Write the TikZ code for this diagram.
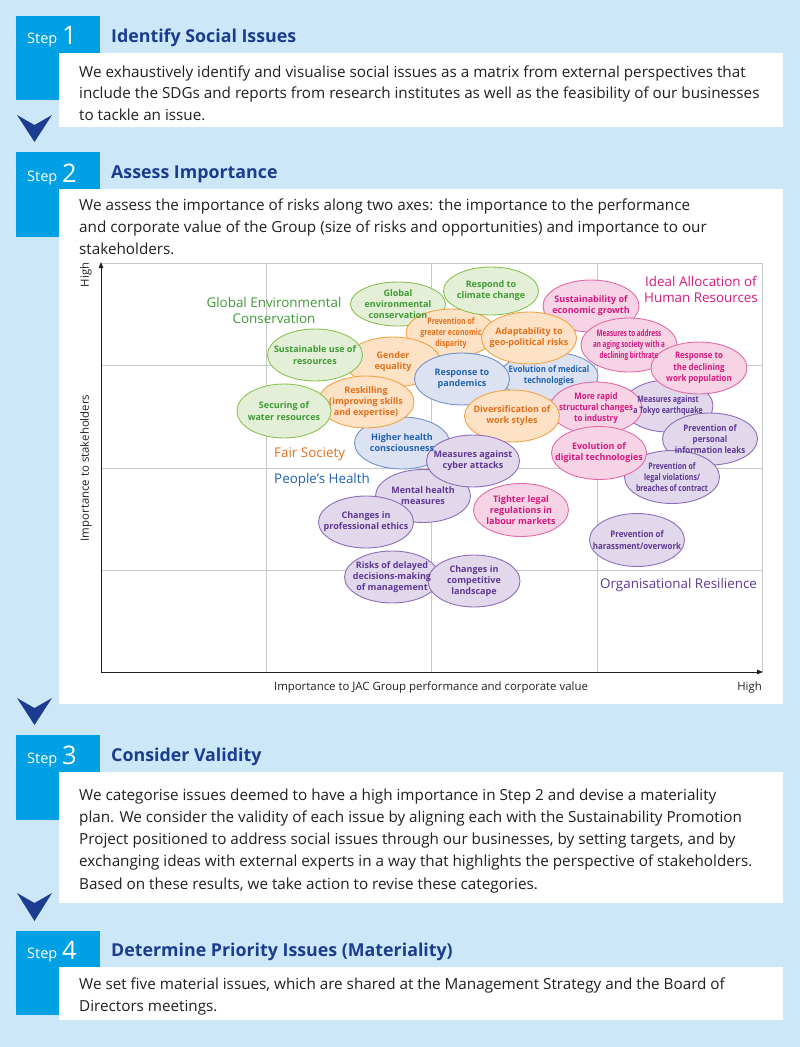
\documentclass[tikz,border=0pt]{standalone}
\usepackage{fontspec}
\setmainfont{Open Sans}
\newfontfamily\condsans[FakeStretch=0.78]{Open Sans}
\newfontfamily\xcondsans[FakeStretch=0.70]{Open Sans}
\newfontfamily\semicond[FakeStretch=0.88]{Open Sans}
\usetikzlibrary{shapes.geometric,arrows.meta}
\pgfdeclarelayer{bg}
\pgfdeclarelayer{ell}
\pgfsetlayers{bg,ell,main}
\definecolor{bgblue}{HTML}{CCE8F8}
\definecolor{stepblue}{HTML}{00A0E4}
\definecolor{navy}{HTML}{1B3C8F}
\definecolor{bodytext}{HTML}{231F20}
\definecolor{gridgray}{HTML}{C8C8C8}
\definecolor{gfill}{HTML}{E3F0D7}\definecolor{gdraw}{HTML}{8CC152}\definecolor{gtext}{HTML}{3F9B35}
\definecolor{ofill}{HTML}{FDE2C6}\definecolor{odraw}{HTML}{F4A246}\definecolor{otext}{HTML}{E5701C}
\definecolor{bfill}{HTML}{DCE2F2}\definecolor{bdraw}{HTML}{7092CD}\definecolor{btext}{HTML}{2062B0}
\definecolor{pfill}{HTML}{E1D8EC}\definecolor{pdraw}{HTML}{8E6DB8}\definecolor{ptext}{HTML}{5E3894}
\definecolor{kfill}{HTML}{F6D3E5}\definecolor{kdraw}{HTML}{E36AA9}\definecolor{ktext}{HTML}{D7197F}
\tikzset{
  stepbox/.style={fill=stepblue,draw=none},
  panel/.style={fill=white,draw=none},
  chev/.style={fill=navy,draw=none},
  stepword/.style={text=white,anchor=base west,inner sep=0pt,font=\fontsize{14.5}{16}\selectfont},
  stepnum/.style={text=white,anchor=base west,inner sep=0pt,font=\fontsize{25.5}{28}\selectfont},
  steptitle/.style={text=navy,anchor=base west,inner sep=0pt,font=\fontsize{17.8}{20}\selectfont\bfseries},
  body/.style={text=bodytext,anchor=base west,inner sep=0pt,font=\fontsize{15.25}{17}\selectfont},
  grid/.style={draw=gridgray,line width=0.8pt},
  axis/.style={draw=bodytext,line width=0.9pt,-{Triangle[length=6pt,width=4.5pt]}},
  axlabel/.style={text=bodytext,inner sep=0pt,font=\fontsize{11.4}{13}\selectfont},
  cat/.style={inner sep=0pt,align=center,font=\fontsize{13.4}{16}\selectfont},
  iss/.style={ellipse,line width=0.9pt,inner sep=0pt},
  isstext/.style={inner sep=0pt,align=center,font=\fontsize{9}{11.2}\selectfont\bfseries},
  G/.style={fill=gfill,draw=gdraw},Gtext/.style={text=gtext},
  O/.style={fill=ofill,draw=odraw},Otext/.style={text=otext},
  B/.style={fill=bfill,draw=bdraw},Btext/.style={text=btext},
  P/.style={fill=pfill,draw=pdraw},Ptext/.style={text=ptext},
  K/.style={fill=kfill,draw=kdraw},Ktext/.style={text=ktext},
  xcnd/.style={font=\fontsize{9}{11.2}\selectfont\xcondsans\bfseries},
  cnd/.style={font=\fontsize{9}{11.2}\selectfont\condsans\bfseries},
  scnd/.style={font=\fontsize{9}{11.2}\selectfont\semicond\bfseries},
}
% #1 name, #2 colour style, #3 x, #4 y, #5 width, #6 height, #7 text options, #8 text
\newcommand\issue[8]{%
  \begin{pgfonlayer}{ell}
  \node[iss,#2,minimum width=#5pt,minimum height=#6pt] (#1) at (#3,#4) {};
  \end{pgfonlayer}
  \node[isstext,#2text,#7] (#1-t) at (#1.center) {#8};
}
\begin{document}
\begin{tikzpicture}[x=1pt,y=-1pt]
\useasboundingbox (0,0) rectangle (800,1047);
\begin{pgfonlayer}{bg}
\fill[bgblue] (0,0) rectangle (800,1047);
\fill[stepbox] (16,16) rectangle (100,100);
\fill[panel] (59,53) rectangle (783,127);
\fill[chev] (17,115) -- (34.5,125) -- (52,115) -- (34.5,142) -- cycle;
\fill[stepbox] (16,152) rectangle (100,237);
\fill[panel] (59,189) rectangle (783,704);
\fill[chev] (17,698) -- (34.5,708) -- (52,698) -- (34.5,725) -- cycle;
\fill[stepbox] (16,735) rectangle (100,820);
\fill[panel] (59,772) rectangle (783,903);
\fill[chev] (17,893) -- (34.5,903) -- (52,893) -- (34.5,921) -- cycle;
\fill[stepbox] (16,931) rectangle (100,1015);
\fill[panel] (59,967) rectangle (783,1020);
% matrix grid
\coordinate (o) at (101,672);
\coordinate (ytop) at (101,262);
\coordinate (xend) at (763,672);
\draw[grid] (101,263) -- (762,263) -- (762,672);
\foreach \gx in {266,431,597} \draw[grid] (\gx,263) -- (\gx,672);
\foreach \gy in {365,468,570} \draw[grid] (101,\gy) -- (762,\gy);
\draw[axis] (o) -- (ytop);
\draw[axis] (o) -- (xend);
\end{pgfonlayer}

% ---------- Step 1
\node[stepword] (s1w) at (27,43) {Step};
\node[stepnum] (s1n) at (62,44) {1};
\node[steptitle] (s1t) at (111,42) {Identify Social Issues};
\node[body] (s1a) at (79,77) {We exhaustively identify and visualise social issues as a matrix from external perspectives that};
\node[body] (s1b) at (79,98.5) {include the SDGs and reports from research institutes as well as the feasibility of our businesses};
\node[body] (s1c) at (79,120) {to tackle an issue.};

% ---------- Step 2
\node[stepword] (s2w) at (27,181) {Step};
\node[stepnum] (s2n) at (62,182) {2};
\node[steptitle] (s2t) at (111,178) {Assess Importance};
\node[body] (s2a) at (79,210) {We assess the importance of risks along two axes: the importance to the performance};
\node[body] (s2b) at (79,232) {and corporate value of the Group (size of risks and opportunities) and importance to our};
\node[body] (s2c) at (79,254) {stakeholders.};

\node[axlabel,rotate=90] (yhigh) at (86,275) {High};
\node[axlabel,rotate=90] (ylab) at (86,468) {Importance to stakeholders};
\node[axlabel,anchor=base] (xlab) at (431,690) {Importance to JAC Group performance and corporate value};
\node[axlabel,anchor=base east] (xhigh) at (762,690) {High};

% category labels
\node[cat,text=gtext] (catG) at (274,310) {Global Environmental\\Conservation};
\node[cat,text=ktext] (catK) at (701,289) {Ideal Allocation of\\Human Resources};
\node[cat,text=otext,anchor=base west] (catO) at (274,457) {Fair Society};
\node[cat,text=btext,anchor=base west] (catB) at (274,483) {People's Health};
\node[cat,text=ptext,anchor=base west] (catP) at (600,588) {Organisational Resilience};

% issues (drawing order = stacking order of the ellipses; texts stay on top)
\issue{gec}{G}{398}{304}{95}{44}{}{Global\\environmental\\conservation}
\issue{emt}{B}{549}{376}{98}{48}{scnd}{Evolution of medical\\technologies}
\issue{hhc}{B}{402}{443}{95}{52}{}{Higher health\\consciousness}
\issue{ped}{O}{451}{333}{90}{48}{cnd}{Prevention of\\greater economic\\disparity}
\issue{rcc}{G}{491}{291}{95}{48}{}{Respond to\\climate change}
\issue{seg}{K}{591}{306}{96}{52}{}{Sustainability of\\economic growth}
\issue{agr}{O}{529}{338}{95}{52}{}{Adaptability to\\geo-political risks}
\issue{mas}{K}{629}{345}{96}{54}{xcnd}{Measures to address\\an aging society with a\\declining birthrate}
\issue{mte}{P}{668}{406}{90}{52}{cnd}{Measures against\\a Tokyo earthquake}
\issue{rdw}{K}{699}{368}{96}{52}{scnd}{Response to\\the declining\\work population}
\issue{geq}{O}{393}{362}{95}{50}{}{Gender\\equality}
\issue{sur}{G}{315}{355}{95}{52}{}{Sustainable use of\\resources}
\issue{rpa}{B}{462}{379}{95}{52}{}{Response to\\pandemics}
\issue{res}{O}{366}{402}{96}{52}{}{Reskilling\\(improving skills\\and expertise)}
\issue{swr}{G}{284}{411}{94}{54}{}{Securing of\\water resources}
\issue{mrs}{K}{596}{408}{92}{52}{scnd}{More rapid\\structural changes\\to industry}
\issue{dws}{O}{512}{416}{95}{52}{}{Diversification of\\work styles}
\issue{ppi}{P}{710}{439}{95}{52}{scnd}{Prevention of\\personal\\information leaks}
\issue{plv}{P}{672}{477}{95}{53}{cnd}{Prevention of\\legal violations/\\breaches of contract}
\issue{edt}{K}{599}{453}{95}{53}{}{Evolution of\\digital technologies}
\issue{mhm}{P}{423}{496}{95}{53}{}{Mental health\\measures}
\issue{mca}{P}{473}{461}{93}{52}{}{Measures against\\cyber attacks}
\issue{cpe}{P}{366}{522}{95}{52}{}{Changes in\\professional ethics}
\issue{tlr}{K}{521}{510}{95}{53}{}{Tighter legal\\regulations in\\labour markets}
\issue{pho}{P}{637}{540}{95}{53}{scnd}{Prevention of\\harassment/overwork}
\issue{rdd}{P}{392}{577}{95}{52}{}{Risks of delayed\\decisions-making\\of management}
\issue{ccl}{P}{474}{581}{92}{52}{}{Changes in\\competitive\\landscape}

% ---------- Step 3
\node[stepword] (s3w) at (27,763) {Step};
\node[stepnum] (s3n) at (62,764) {3};
\node[steptitle] (s3t) at (111,761) {Consider Validity};
\node[body] (s3a) at (79,800) {We categorise issues deemed to have a high importance in Step 2 and devise a materiality};
\node[body] (s3b) at (79,822) {plan. We consider the validity of each issue by aligning each with the Sustainability Promotion};
\node[body] (s3c) at (79,844) {Project positioned to address social issues through our businesses, by setting targets, and by};
\node[body] (s3d) at (79,866.5) {exchanging ideas with external experts in a way that highlights the perspective of stakeholders.};
\node[body] (s3e) at (79,889) {Based on these results, we take action to revise these categories.};

% ---------- Step 4
\node[stepword] (s4w) at (27,958) {Step};
\node[stepnum] (s4n) at (62,959) {4};
\node[steptitle] (s4t) at (111,956) {Determine Priority Issues (Materiality)};
\node[body] (s4a) at (79,989) {We set five material issues, which are shared at the Management Strategy and the Board of};
\node[body] (s4b) at (79,1011.5) {Directors meetings.};
\end{tikzpicture}
\end{document}
